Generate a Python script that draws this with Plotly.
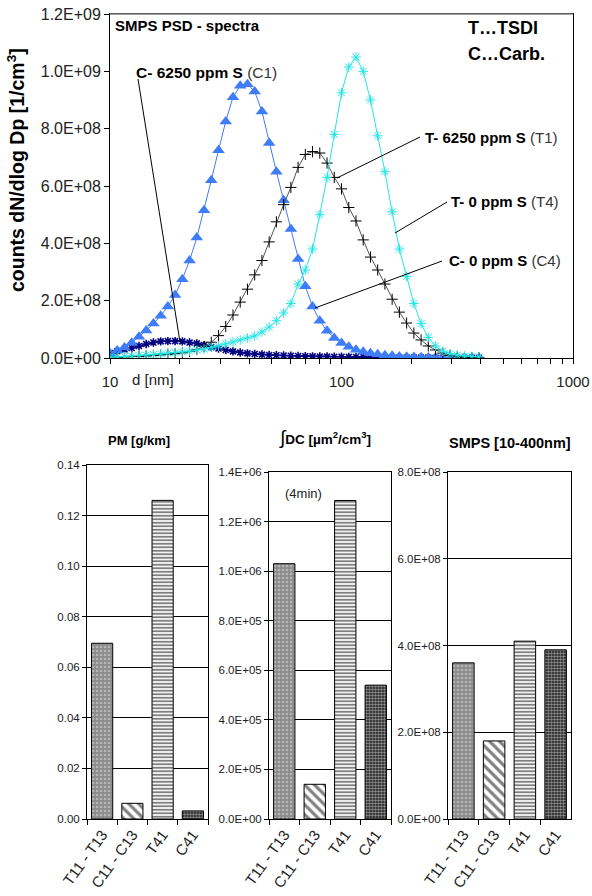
import plotly.graph_objects as go

W, H = 592, 896

# ---------------- data: SMPS spectra ----------------
d_nm = [10.0, 10.75, 11.55, 12.41, 13.34, 14.33, 15.40, 16.55, 17.78, 19.11,
        20.54, 22.07, 23.71, 25.48, 27.38, 29.43, 31.62, 33.98, 36.52, 39.24,
        42.17, 45.32, 48.70, 52.33, 56.23, 60.43, 64.94, 69.78, 74.99, 80.58,
        86.60, 93.06, 100.0, 107.5, 115.5, 124.1, 133.4, 143.3, 154.0, 165.5,
        177.8, 191.1, 205.4, 220.7, 237.1, 254.8, 273.8, 294.3, 316.2, 339.8,
        365.2, 392.4]

# navy curve (labelled C1)
spec_navy = [1.7e7, 2.4e7, 3.0e7, 3.5e7, 4.2e7, 4.9e7, 5.4e7, 5.8e7, 5.9e7, 5.9e7,
             5.8e7, 5.4e7, 5.1e7, 4.5e7, 3.8e7, 3.3e7, 2.8e7, 2.3e7, 1.9e7, 1.6e7,
             1.4e7, 1.2e7, 1.05e7, 9.5e6, 8.7e6, 8.0e6, 7.0e6, 6.3e6, 5.8e6, 5.3e6,
             5.0e6, 4.6e6, 4.3e6, 4.0e6, 3.7e6, 3.4e6, 3.1e6, 2.8e6, 2.5e6, 2.2e6,
             2.0e6, 1.8e6, 1.6e6, 1.4e6, 1.2e6, 1.0e6, 9e5, 8e5, 7e5, 6e5, 5e5, 4e5]

# blue triangles (labelled C4)
spec_blue = [1.7e7, 2.6e7, 3.7e7, 5.3e7, 7.4e7, 9.6e7, 1.2e8, 1.47e8, 1.8e8, 2.2e8,
             2.75e8, 3.4e8, 4.2e8, 5.15e8, 6.2e8, 7.25e8, 8.25e8, 9.1e8, 9.5e8, 9.55e8,
             9.3e8, 8.6e8, 7.5e8, 6.5e8, 5.5e8, 4.5e8, 3.45e8, 2.5e8, 1.8e8, 1.3e8,
             9.5e7, 7.0e7, 5.2e7, 3.9e7, 2.9e7, 2.2e7, 1.7e7, 1.3e7, 1.0e7, 7.5e6,
             5.5e6, 4.2e6, 3.2e6, 2.5e6, 2.0e6, 1.6e6, 1.3e6, 1.0e6, 8e5, 6e5, 5e5, 4e5]

# black plus (T1)
spec_black = [3e6, 3e6, 4e6, 5e6, 6e6, 7e6, 9e6, 1.1e7, 1.3e7, 1.5e7,
              1.8e7, 2.3e7, 3.0e7, 4.0e7, 5.5e7, 7.8e7, 1.1e8, 1.5e8, 1.95e8, 2.4e8,
              2.9e8, 3.4e8, 4.05e8, 4.75e8, 5.35e8, 5.95e8, 6.65e8, 7.1e8, 7.2e8, 7.15e8,
              6.8e8, 6.3e8, 5.9e8, 5.25e8, 4.78e8, 4.12e8, 3.52e8, 3.07e8, 2.58e8, 2.05e8,
              1.6e8, 1.22e8, 8.7e7, 6.3e7, 4.2e7, 2.8e7, 1.7e7, 9e6, 4e6, 2e6, 1e6, 1e6]

# cyan stars (T4)
spec_cyan = [2e6, 4e6, 5e6, 7e6, 9e6, 1.0e7, 1.2e7, 1.4e7, 1.7e7, 1.9e7,
             2.1e7, 2.4e7, 2.8e7, 3.1e7, 3.7e7, 4.2e7, 4.9e7, 5.6e7, 6.3e7, 7.0e7,
             7.7e7, 9.1e7, 1.08e8, 1.3e8, 1.57e8, 1.9e8, 2.58e8, 3.07e8, 3.8e8, 5.0e8,
             6.3e8, 7.8e8, 9.25e8, 1.015e9, 1.05e9, 1.0e9, 9.0e8, 7.75e8, 6.5e8, 5.1e8,
             3.8e8, 2.85e8, 1.9e8, 1.2e8, 7.2e7, 4.2e7, 2.4e7, 1.5e7, 1.0e7, 7e6, 5e6, 4e6]

top_y_vals = [0, 2e8, 4e8, 6e8, 8e8, 1.0e9, 1.2e9]
top_y_text = ["0.0E+00", "2.0E+08", "4.0E+08", "6.0E+08", "8.0E+08", "1.0E+09", "1.2E+09"]
top_x_vals = [10, 20, 30, 40, 50, 60, 70, 80, 90, 100, 200, 300, 400, 500, 600, 700, 800, 900, 1000]
top_x_text = ["10", "", "", "", "", "", "", "", "", "100", "", "", "", "", "", "", "", "", "1000"]

# ---------------- data: bar panels ----------------
categories = ["T11 - T13", "C11 - C13", "T41", "C41"]
pm_gkm = [0.0695, 0.0062, 0.126, 0.0032]
dc_int = [1.03e6, 1.40e5, 1.285e6, 5.4e5]
smps_10_400 = [3.6e8, 1.8e8, 4.1e8, 3.9e8]

pm_ticks = [0, 0.02, 0.04, 0.06, 0.08, 0.10, 0.12, 0.14]
dc_ticks = [0, 2e5, 4e5, 6e5, 8e5, 1.0e6, 1.2e6, 1.4e6]
dc_text = ["0.0E+00", "2.0E+05", "4.0E+05", "6.0E+05", "8.0E+05", "1.0E+06", "1.2E+06", "1.4E+06"]
smps_ticks = [0, 2e8, 4e8, 6e8, 8e8]
smps_text = ["0.0E+00", "2.0E+08", "4.0E+08", "6.0E+08", "8.0E+08"]


def px(x):
    return x / W


def py(y):
    return 1 - y / H


FONT = "Liberation Sans, Arial, sans-serif"

fig = go.Figure()

fig.add_trace(go.Scatter(
    x=d_nm, y=spec_navy, mode="lines+markers", xaxis="x", yaxis="y",
    line=dict(color="#000080", width=1.5),
    marker=dict(symbol="asterisk-open", size=7, color="#000080",
                line=dict(color="#000080", width=1.6))))
fig.add_trace(go.Scatter(
    x=d_nm, y=spec_blue, mode="lines+markers", xaxis="x", yaxis="y",
    line=dict(color="#3F7CF7", width=1),
    marker=dict(symbol="triangle-up", size=11, color="#3F7CF7")))
fig.add_trace(go.Scatter(
    x=d_nm, y=spec_black, mode="lines+markers", xaxis="x", yaxis="y",
    line=dict(color="#555555", width=1),
    marker=dict(symbol="cross-thin-open", size=8, color="black",
                line=dict(color="black", width=1))))
fig.add_trace(go.Scatter(
    x=d_nm, y=spec_cyan, mode="lines+markers", xaxis="x", yaxis="y",
    line=dict(color="#22E6E6", width=1),
    marker=dict(symbol="asterisk-open", size=8, color="#22E6E6",
                line=dict(color="#22E6E6", width=1))))

pattern = dict(
    shape=[".", "\\", "-", "."],
    bgcolor=["#8c8c8c", "white", "white", "#1a1a1a"],
    fgcolor=["#e0e0e0", "black", "black", "white"],
    size=[4, 7, 3.5, 3],
    solidity=[0.35, 0.45, 0.55, 0.55],
)

for vals, xa, ya in [(pm_gkm, "x2", "y2"), (dc_int, "x3", "y3"), (smps_10_400, "x4", "y4")]:
    fig.add_trace(go.Bar(
        x=categories, y=vals, xaxis=xa, yaxis=ya,
        marker=dict(color="white", line=dict(color="black", width=1), pattern=pattern)))

axis_common = dict(showline=True, linecolor="black", linewidth=1, mirror=True,
                   ticks="outside", tickcolor="black", zeroline=False, automargin=False)

layout = dict(
    width=W, height=H, margin=dict(l=0, r=0, t=0, b=0, autoexpand=False),
    paper_bgcolor="white", plot_bgcolor="white", showlegend=False,
    bargap=0.3,
    font=dict(family=FONT, color="black"),
    xaxis=dict(domain=[px(110), px(573)], type="log", range=[1, 3],
               tickvals=top_x_vals, ticktext=top_x_text, ticklen=5,
               ticklabelstandoff=5,
               tickfont=dict(size=15, family=FONT, color="#222"),
               showgrid=False, anchor="y", **axis_common),
    yaxis=dict(domain=[py(358), py(14)], range=[0, 1.2e9],
               tickvals=top_y_vals, ticktext=top_y_text, ticklen=5,
               tickfont=dict(size=16, family=FONT, color="#222"),
               showgrid=False, anchor="x", **axis_common),
)

bar_axes = [
    ("2", px(87), px(208), py(819), py(465), [0, 0.14], pm_ticks,
     ["%.2f" % v for v in pm_ticks]),
    ("3", px(269), px(391), py(819), py(472), [0, 1.4e6], dc_ticks, dc_text),
    ("4", px(448), px(571), py(819), py(472), [0, 8e8], smps_ticks, smps_text),
]
for n, x0, x1, y0, y1, rng, tv, tt in bar_axes:
    layout["xaxis" + n] = dict(domain=[x0, x1], anchor="y" + n, type="category",
                               tickson="boundaries", ticklen=5, tickangle=-54,
                               tickfont=dict(size=15, family=FONT, color="#222"),
                               showgrid=False, **axis_common)
    layout["yaxis" + n] = dict(domain=[y0, y1], anchor="x" + n, range=rng,
                               tickvals=tv, ticktext=tt, ticklen=4,
                               tickfont=dict(size=11.5, family=FONT, color="#222"),
                               showgrid=True, gridcolor="black", gridwidth=1,
                               **axis_common)

fig.update_layout(**layout)

ann = []


def text(x, y, s, size, xanchor="left", angle=0, color="black", family=FONT):
    ann.append(dict(x=px(x), y=py(y), xref="paper", yref="paper", text=s,
                    showarrow=False, xanchor=xanchor, yanchor="middle",
                    textangle=angle, font=dict(size=size, color=color, family=family)))


text(113, 26, "<b>SMPS PSD - spectra</b>", 15)
text(466, 28, "<b>T…TSDI</b>", 18)
text(466, 54, "<b>C…Carb.</b>", 18)
text(134, 72, "<b>C- 6250 ppm S</b> <span style='color:#333'>(C1)</span>", 15.5)
text(423, 137, "<b>T- 6250 ppm S</b> <span style='color:#333'>(T1)</span>", 15)
text(449, 201, "<b>T- 0 ppm S</b> <span style='color:#333'>(T4)</span>", 15)
text(447, 261, "<b>C- 0 ppm S</b> <span style='color:#333'>(C4)</span>", 15)
text(130, 379, "d [nm]", 15, color="#222")
text(16, 170, "<b>counts dN/dlog Dp [1/cm<sup>3</sup>]</b>", 19.5, xanchor="center", angle=-90)

text(139, 440, "<b>PM [g/km]</b>", 13, xanchor="center")
text(325, 438, "<span style='font-size:19px'>∫</span><b>DC [µm<sup>2</sup>/cm<sup>3</sup>]</b>", 13.5, xanchor="center")
text(510, 443, "<b>SMPS [10-400nm]</b>", 14.5, xanchor="center")
text(283, 493, "(4min)", 13, color="#222")

shapes = []
for (xa, ya, xb, yb) in [(138, 79, 180, 342), (420, 137, 337, 178),
                         (447, 202, 395, 233), (442, 261, 315, 308)]:
    shapes.append(dict(type="line", xref="paper", yref="paper",
                       x0=px(xa), y0=py(ya), x1=px(xb), y1=py(yb),
                       line=dict(color="black", width=1)))
# grey top frame line of the spectra panel
shapes.append(dict(type="line", xref="paper", yref="paper", x0=px(110), x1=px(573),
                   y0=py(14), y1=py(14), line=dict(color="#808080", width=1.5)))

fig.update_layout(annotations=ann, shapes=shapes)

fig.write_html("out.html")
